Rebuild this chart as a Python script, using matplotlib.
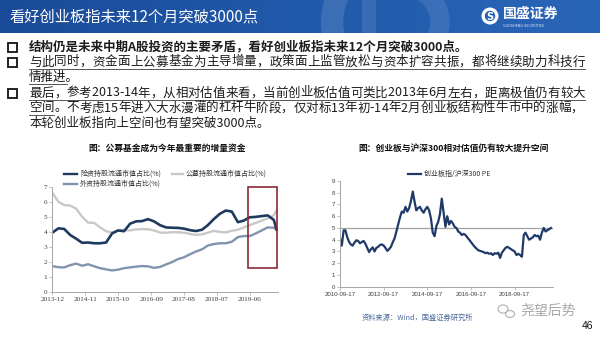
import matplotlib

matplotlib.use("Agg")
import matplotlib.dates as mdates
import matplotlib.pyplot as plt
import numpy as np
import pandas as pd
from matplotlib.colors import LinearSegmentedColormap
from matplotlib.font_manager import FontProperties
from matplotlib.patches import Arc, Circle, Ellipse, Rectangle

plt.rcParams["font.family"] = ["Noto Sans CJK SC", "DejaVu Sans"]

# ---------------- data ----------------
# holdings as % of free-float market cap, every other month
fund_months = [
    "2013-12", "2014-02", "2014-04", "2014-06", "2014-08", "2014-10", "2014-12",
    "2015-02", "2015-04", "2015-06", "2015-08", "2015-10", "2015-12",
    "2016-02", "2016-04", "2016-06", "2016-08", "2016-10", "2016-12",
    "2017-02", "2017-04", "2017-06", "2017-08", "2017-10", "2017-12",
    "2018-02", "2018-04", "2018-06", "2018-08", "2018-10", "2018-12",
    "2019-02", "2019-04", "2019-06", "2019-08", "2019-10", "2019-12",
    "2020-02", "2020-03",
]
insurance_share = [
    3.95, 4.24, 4.2, 3.8, 3.55, 3.28, 3.3, 3.25, 3.25, 3.3, 3.9, 4.1, 4.05,
    4.55, 4.7, 4.72, 4.85, 4.7, 4.45, 4.3, 4.28, 4.27, 4.22, 4.12, 4.06,
    4.15, 4.45, 4.85, 5.2, 5.42, 5.35, 4.65, 4.75, 4.97, 5.0, 5.05, 5.1, 4.8, 4.15,
]
mutual_fund_share = [
    6.6, 6.0, 5.78, 5.75, 5.55, 5.0, 4.62, 4.6, 4.3, 4.05, 3.97, 4.1, 4.13,
    4.1, 4.17, 4.19, 4.18, 4.1, 3.96, 3.95, 3.98, 3.98, 3.95, 3.87, 3.8,
    3.84, 3.95, 4.08, 4.0, 3.97, 4.08, 4.15, 4.3, 4.45, 4.6, 4.75, 4.9, 5.1, 5.45,
]
foreign_share = [
    1.74, 1.66, 1.65, 1.8, 1.9, 1.76, 1.86, 1.72, 1.6, 1.52, 1.45, 1.5, 1.6,
    1.65, 1.7, 1.74, 1.72, 1.62, 1.68, 1.85, 2.0, 2.2, 2.32, 2.52, 2.7,
    2.85, 3.1, 3.2, 3.25, 3.25, 3.35, 3.66, 3.73, 3.73, 3.9, 4.1, 4.3, 4.28, 4.17,
]
fund_labels = ["险资持股流通市值占比(%)", "公募持股流通市值占比(%)", "外资持股流通市值占比(%)"]
fund_ticks = ["2013-12", "2014-11", "2015-10", "2016-09", "2017-08", "2018-07", "2019-06"]
highlight_start, highlight_end, highlight_low = "2019-05-10", "2020-03-05", 1.6

# ChiNext / CSI300 PE ratio, monthly from 2010-09-17
pe_ratio = [
    4.1, 3.5, 4.8, 4.8, 4.2, 3.8, 3.6, 3.5, 3.75, 3.95, 3.9, 3.7, 3.8, 3.9,
    3.65, 3.3, 2.95, 3.2, 3.35, 3.0, 3.3, 3.4, 3.55, 3.6, 3.5, 3.3, 3.05,
    3.2, 3.4, 3.8, 4.1, 4.7, 5.3, 5.9, 6.4, 6.3, 6.8, 6.4, 6.7, 7.3, 8.1,
    7.2, 6.5, 6.7, 6.8, 6.5, 6.3, 6.6, 6.8, 6.5, 5.8, 4.6, 4.3, 5.2, 5.5,
    6.2, 7.5, 6.3, 5.1, 6.0, 5.3, 5.6, 5.4, 5.1, 5.0, 4.7, 4.6, 4.4, 4.5,
    4.4, 4.2, 4.0, 3.8, 3.6, 3.4, 3.25,
    3.1, 3.05, 3.0, 2.95, 2.85, 2.9, 2.8, 2.85, 2.7, 2.85, 2.8, 2.9, 2.45,
    2.9, 3.1, 3.3, 3.4, 3.3, 3.2, 3.1, 3.0, 2.7, 2.8, 2.7, 2.55, 4.4, 4.6,
    4.3, 4.0, 4.1, 4.2, 4.4, 4.3, 4.35, 4.0, 4.6, 5.0, 4.7, 4.8, 4.9, 5.0,
]
pe_start = "2010-09-17"
pe_ref_level = 4.96
pe_label = "创业板指/沪深300 PE"
pe_ticks = ["2010-09-17", "2012-09-17", "2014-09-17", "2016-09-17", "2018-09-17"]

header_title = "看好创业板指未来12个月突破3000点"
bullet_lines = [
    "结构仍是未来中期A股投资的主要矛盾，看好创业板指未来12个月突破3000点。",
    "与此同时，资金面上公募基金为主导增量，政策面上监管放松与资本扩容共振，都将继续助力科技行",
    "情推进。",
    "最后，参考2013-14年，从相对估值来看，当前创业板估值可类比2013年6月左右，距离极值仍有较大",
    "空间。不考虑15年进入大水漫灌的杠杆牛阶段，仅对标13年初-14年2月创业板结构性牛市中的涨幅，",
    "本轮创业板指向上空间也有望突破3000点。",
]

# ---------------- canvas ----------------
W, H = 600, 338
fig = plt.figure(figsize=(6, 3.38), dpi=100)
bg = fig.add_axes([0, 0, 1, 1])
bg.axis("off")


def px_axes(left, top, right, bottom):
    return fig.add_axes([left / W, 1 - bottom / H, (right - left) / W, (bottom - top) / H])


# header band
cmap = LinearSegmentedColormap.from_list("band", ["#1a4b98", "#2159aa", "#2a66b8"])
bg.imshow(np.linspace(0, 1, 256)[None, :], cmap=cmap, extent=(0, W, 33, 0), aspect="auto", zorder=0)
bg.set_xlim(0, W)
bg.set_ylim(H, 0)
band = Rectangle((0, 0), W, 33, transform=bg.transData, facecolor="none", edgecolor="none")
bg.add_patch(band)
for art in [
    Arc((392, 22), 120, 120, theta1=95, theta2=265, lw=16, color="#ffffff", alpha=0.12),
    Rectangle((362, -5), 14, 45, color="#ffffff", alpha=0.10, lw=0),
    Arc((405, 22), 70, 70, theta1=-80, theta2=80, lw=14, color="#ffffff", alpha=0.10),
]:
    bg.add_patch(art)
    art.set_clip_path(band)

bg.text(10, 17, header_title, color="white", fontsize=11, va="center", ha="left")
bg.add_patch(Circle((490, 16), 8.5, color="white", lw=0))
bg.add_patch(Circle((490, 16), 5.2, color="#2461b2", lw=0))
bg.text(490, 16.5, "S", color="white", fontsize=7, fontweight="bold", ha="center", va="center",
        family="DejaVu Sans")
bg.text(503, 14, "国盛证券", color="white", fontsize=10, fontweight="bold", va="center", ha="left")
bg.text(503, 26, "GUOSHENG SECURITIES", color="#dfe8f5", fontsize=2.4, va="center", ha="left",
        family="DejaVu Sans")

# ---------------- bullet text ----------------
renderer = fig.canvas.get_renderer()
body = FontProperties(family="Noto Sans CJK SC", size=9)
ink = "#1c1c1c"
rule = "#3a3a3a"


def text_width(s, fp=body):
    return renderer.get_text_width_height_descent(s, fp, ismath=False)[0]


def char_positions(s, x0, x1=None):
    """Left edge of every character; spread evenly to x1 for justified lines."""
    ref = text_width("中")
    pos = [x0] + [x0 + text_width(s[:i] + "中") - ref for i in range(1, len(s))]
    gap = 0 if x1 is None else (x1 - x0 - text_width(s)) / (len(s) - 1)
    return [p + i * gap for i, p in enumerate(pos)], gap


def justified(s, x0, x1, y, underline_to=None):
    pos, gap = char_positions(s, x0, x1)
    for ch, x in zip(s, pos):
        bg.text(x, y, ch, fontproperties=body, color=ink, va="center", ha="left")
    if underline_to is not None:
        end = x1 if underline_to >= len(s) else pos[underline_to] - gap
        bg.plot([x0, end], [y + 6.5, y + 6.5], color=rule, lw=0.6)


tx, right_edge = 29, 585
line_y = [47, 62, 77, 93, 108, 123]
for y in (line_y[0], line_y[1], line_y[3]):
    bg.add_patch(Rectangle((8, y - 4.5), 9, 9, fill=False, edgecolor="#111111", lw=1.3))

bg.text(tx, line_y[0], bullet_lines[0], fontproperties=body, fontweight="bold", color=ink,
        va="center", ha="left")
justified(bullet_lines[1], tx, right_edge, line_y[1], underline_to=len(bullet_lines[1]))
bg.text(tx, line_y[2], bullet_lines[2], fontproperties=body, color=ink, va="center", ha="left")
bg.plot([tx, tx + text_width(bullet_lines[2][:3])], [line_y[2] + 6.5] * 2, color=rule, lw=0.6)
justified(bullet_lines[3], tx, right_edge, line_y[3], underline_to=len(bullet_lines[3]))
justified(bullet_lines[4], tx, right_edge - 2, line_y[4], underline_to=2)
bg.text(tx, line_y[5], bullet_lines[5], fontproperties=body, color=ink, va="center", ha="left")

# ---------------- left chart ----------------
bg.text(167, 148, "图：公募基金成为今年最重要的增量资金", fontsize=6.3, fontweight="bold",
        color="#111111", ha="center", va="center")

ax1 = px_axes(52.3, 186.7, 278, 292.3)
months = pd.to_datetime(fund_months)
colors1 = ["#1f3a5f", "#c8c8c8", "#8193ad"]
ax1.plot(months, mutual_fund_share, color=colors1[1], lw=1.7)
ax1.plot(months, foreign_share, color=colors1[2], lw=1.7)
ax1.plot(months, insurance_share, color=colors1[0], lw=1.9)

hs, he = mdates.date2num(pd.Timestamp(highlight_start)), mdates.date2num(pd.Timestamp(highlight_end))
ax1.add_patch(Rectangle((hs, highlight_low), he - hs, 7 - highlight_low, fill=False,
                        edgecolor="#8e2a3a", lw=1.2, clip_on=False, zorder=5))

ax1.set_ylim(0, 7)
ax1.set_yticks(range(0, 8))
ax1.set_xlim(pd.Timestamp("2013-12-01"), pd.Timestamp("2020-03-15"))
ax1.set_xticks(pd.to_datetime(fund_ticks))
ax1.set_xticklabels(fund_ticks)

# legend drawn by hand: (line start, line end, row y, text x)
legend_slots = [(64, 77, 174, 80), (172, 183, 174, 186), (64, 77, 184, 80)]
for (xa, xb, y, xt), label, c in zip(legend_slots, fund_labels, colors1):
    bg.plot([xa, xb], [y, y], color=c, lw=1.7)
    bg.text(xt, y, label, fontsize=5, color="#333333", va="center", ha="left")

# ---------------- right chart ----------------
bg.text(454, 148, "图：创业板与沪深300相对估值仍有较大提升空间", fontsize=6.3, fontweight="bold",
        color="#111111", ha="center", va="center")

ax2 = px_axes(340, 181, 553, 286.7)
pe_dates = pd.date_range(pe_start, periods=len(pe_ratio), freq=pd.DateOffset(months=1))
ax2.axhline(pe_ref_level, color="#a3a3a3", lw=0.9)
ax2.plot(pe_dates, pe_ratio, color="#1f3a68", lw=1.6)
ax2.set_ylim(0, 9)
ax2.set_yticks(range(0, 10))
ax2.set_xlim(pd.Timestamp(pe_start), pd.Timestamp("2020-06-20"))
ax2.set_xticks(pd.to_datetime(pe_ticks))
ax2.set_xticklabels(pe_ticks)

bg.plot([408, 421], [174, 174], color="#1f3a68", lw=1.6)
bg.text(424, 174, pe_label, fontsize=5, color="#333333", va="center", ha="left")

for ax, fam, size in ((ax1, "Liberation Serif", 5.2), (ax2, "Liberation Sans", 4.4)):
    for side in ("top", "right"):
        ax.spines[side].set_visible(False)
    for side in ("left", "bottom"):
        ax.spines[side].set_color("#a6a6a6")
        ax.spines[side].set_linewidth(0.7)
    ax.tick_params(length=2, width=0.5, color="#a6a6a6", labelsize=size, labelcolor="#404040", pad=1.5)
    for lab in ax.get_xticklabels() + ax.get_yticklabels():
        lab.set_family(fam)
    ax.patch.set_alpha(0)

# ---------------- footer ----------------
bg.text(362, 318, "资料来源：Wind，国盛证券研究所", fontsize=5.2, color="#4a6a9a", va="center", ha="left")
bg.add_patch(Ellipse((503, 309), 10, 8, fill=False, edgecolor="#b0b0b0", lw=0.8))
bg.add_patch(Ellipse((510, 314), 9, 7, fill=False, edgecolor="#b0b0b0", lw=0.8))
bg.text(520, 311, "尧望后势", fontsize=10, color="#a8a8a8", va="center", ha="left")
bg.text(588, 326, "46", fontsize=7.5, color="#111111", va="center", ha="center", family="Liberation Sans")

fig.savefig("out.png", dpi=100)
